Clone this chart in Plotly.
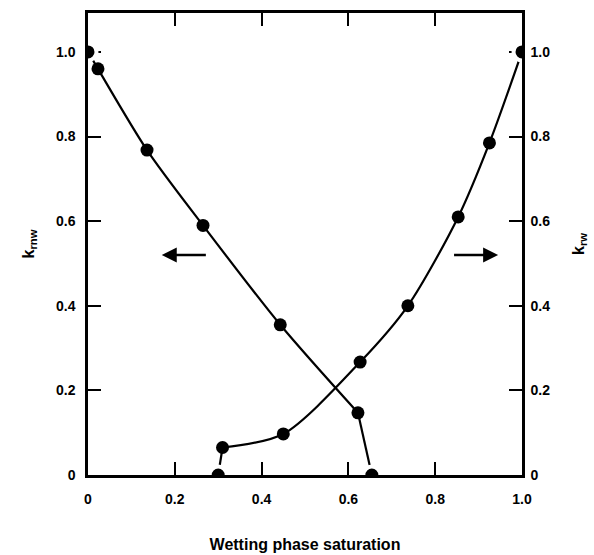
import plotly.graph_objects as go

# Non-wetting phase relative permeability (left axis)
sw_nw = [0.0, 0.023, 0.136, 0.265, 0.443, 0.622, 0.654]
krnw = [1.0, 0.96, 0.768, 0.59, 0.355, 0.147, 0.0]

# Wetting phase relative permeability (right axis)
sw_w = [0.300, 0.310, 0.450, 0.627, 0.737, 0.853, 0.925, 1.0]
krw = [0.0, 0.065, 0.097, 0.267, 0.40, 0.61, 0.785, 1.0]

x_tickvals = [0, 0.2, 0.4, 0.6, 0.8, 1.0]
x_ticktext = ["0", "0.2", "0.4", "0.6", "0.8", "1.0"]
y_tickvals = [0, 0.2, 0.4, 0.6, 0.8, 1.0]
y_ticktext = ["0", "0.2", "0.4", "0.6", "0.8", "1.0"]

FONT = "Liberation Sans, Arial, sans-serif"
BLACK = "#000000"

def marker_style(xs, ys):
    # points lying on the frame get a white halo that breaks the axis line
    on_frame = [(x in (0.0, 1.0)) or (y == 0.0) for x, y in zip(xs, ys)]
    sizes = [17 if f else 13 for f in on_frame]
    lw = [4 if f else 0 for f in on_frame]
    return dict(color=BLACK, size=sizes, opacity=1,
                line=dict(color="white", width=lw))

fig = go.Figure()

# k_rnw: smooth part then straight drop to zero
fig.add_trace(go.Scatter(x=sw_nw[:-1], y=krnw[:-1], mode="lines",
                         line=dict(color=BLACK, width=2.2, shape="spline", smoothing=0.8),
                         hoverinfo="skip", showlegend=False))
fig.add_trace(go.Scatter(x=sw_nw[-2:], y=krnw[-2:], mode="lines",
                         line=dict(color=BLACK, width=2.2), hoverinfo="skip", showlegend=False))
fig.add_trace(go.Scatter(x=sw_nw, y=krnw, mode="markers", marker=marker_style(sw_nw, krnw),
                         opacity=1, showlegend=False))

# k_rw: straight rise then smooth curve
fig.add_trace(go.Scatter(x=sw_w[:2], y=krw[:2], mode="lines", yaxis="y2",
                         line=dict(color=BLACK, width=2.2), hoverinfo="skip", showlegend=False))
fig.add_trace(go.Scatter(x=sw_w[1:], y=krw[1:], mode="lines", yaxis="y2",
                         line=dict(color=BLACK, width=2.2, shape="spline", smoothing=0.8),
                         hoverinfo="skip", showlegend=False))
fig.add_trace(go.Scatter(x=sw_w, y=krw, mode="markers", yaxis="y2",
                         marker=marker_style(sw_w, krw), opacity=1, showlegend=False))

axis_common = dict(showline=True, linecolor=BLACK, linewidth=2.5, ticks="inside",
                   ticklen=13, tickwidth=2, tickcolor=BLACK, showgrid=False, zeroline=False,
                   layer="below traces", automargin=False,
                   tickfont=dict(family=FONT, size=14, color=BLACK, weight="bold"))

fig.update_layout(
    width=594, height=555,
    margin=dict(l=88, r=72, t=13, b=80),
    paper_bgcolor="white", plot_bgcolor="white",
    font=dict(family=FONT, color=BLACK),
    xaxis=dict(range=[0, 1.0], tickvals=x_tickvals, ticktext=x_ticktext,
               mirror="ticks", ticklabelstandoff=9,
               title=dict(text="<b>Wetting phase saturation</b>", standoff=34,
                          font=dict(family=FONT, size=16, color=BLACK)),
               **axis_common),
    yaxis=dict(range=[0, 1.092], tickvals=y_tickvals, ticktext=y_ticktext,
               ticklabelstandoff=7,
               title=dict(text="<b>k<sub>rnw</sub></b>", standoff=18,
                          font=dict(family=FONT, size=16, color=BLACK)),
               **axis_common),
    yaxis2=dict(range=[0, 1.092], tickvals=y_tickvals, ticktext=y_ticktext,
                overlaying="y", side="right", ticklabelstandoff=3,
                title=dict(text="<b>k<sub>rw</sub></b>", standoff=24,
                           font=dict(family=FONT, size=16, color=BLACK)),
                **axis_common),
)

# Direction arrows pointing to the relevant axis
fig.add_annotation(x=0.17, y=0.52, ax=0.275, ay=0.52, xref="x", yref="y",
                   axref="x", ayref="y", text="", showarrow=True,
                   arrowhead=2, arrowsize=1.2, arrowwidth=2.5, arrowcolor=BLACK)
fig.add_annotation(x=0.945, y=0.52, ax=0.84, ay=0.52, xref="x", yref="y",
                   axref="x", ayref="y", text="", showarrow=True,
                   arrowhead=2, arrowsize=1.2, arrowwidth=2.5, arrowcolor=BLACK)

fig.write_html("out.html", config={"displayModeBar": False},
               post_script="document.body.style.margin='0';document.body.style.overflow='hidden';")
